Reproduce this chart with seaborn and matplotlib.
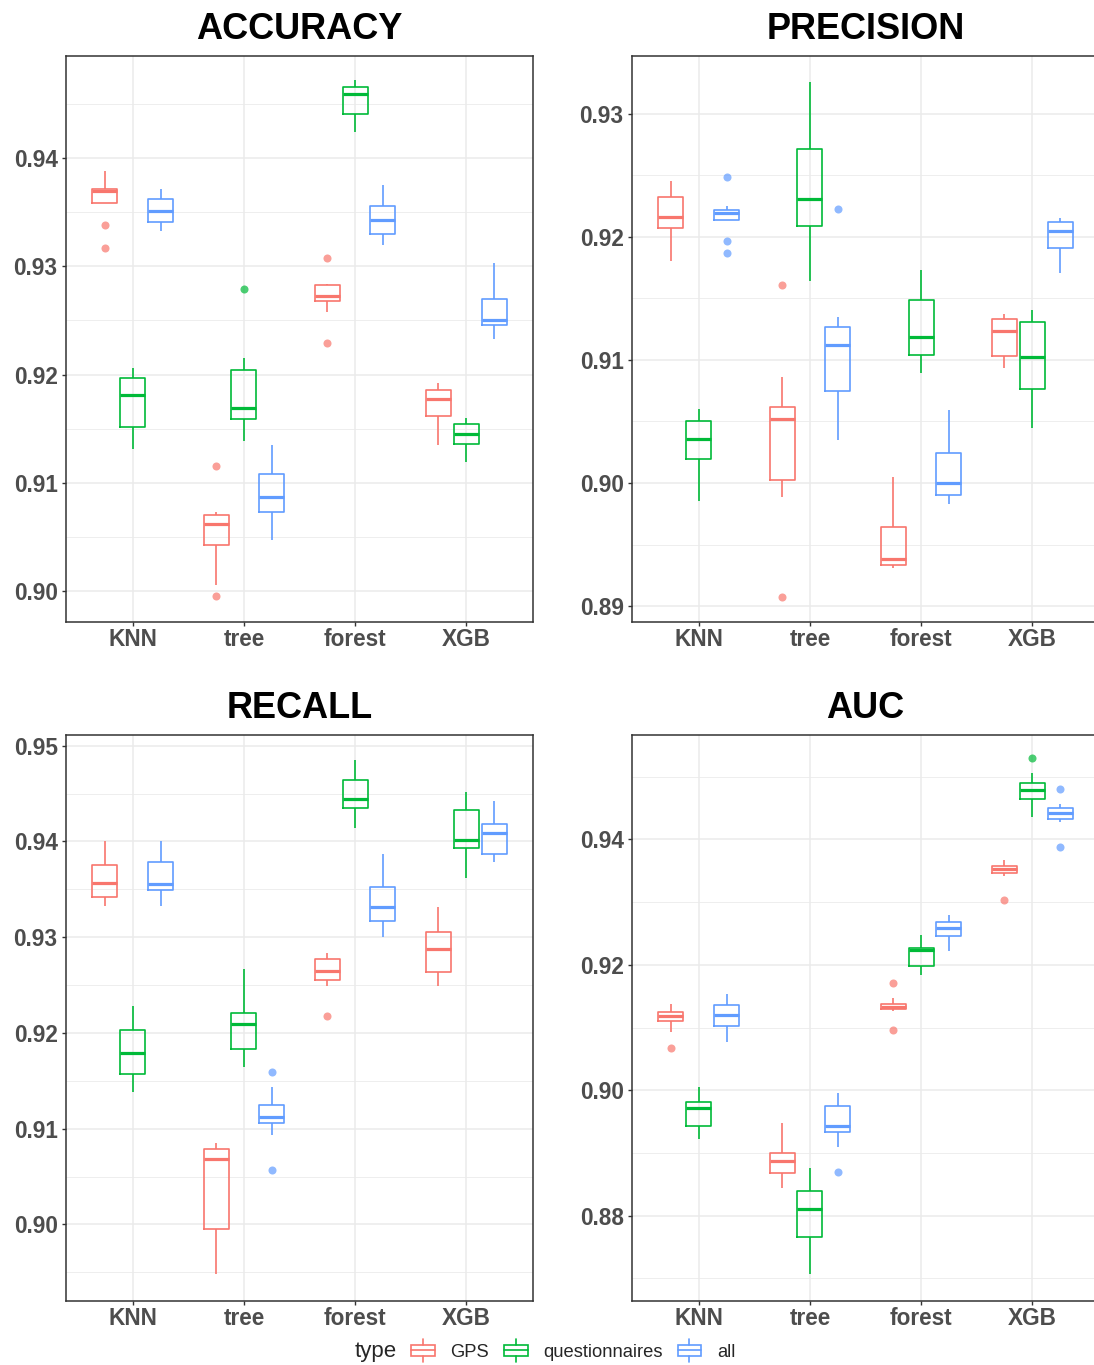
import numpy as np
import pandas as pd
import matplotlib
matplotlib.use("Agg")
import matplotlib.pyplot as plt
import seaborn as sns
from matplotlib.patches import Patch, Rectangle
from matplotlib.lines import Line2D
from matplotlib.legend_handler import HandlerBase

models = ["KNN", "tree", "forest", "XGB"]
types = ["GPS", "questionnaires", "all"]
colors = ["#F8766D", "#00BA38", "#619CFF"]

# box stats: (low whisker, q1, median, q3, high whisker), one per model
acc_gps = [(0.93585, 0.93585, 0.93691, 0.93716, 0.93876), (0.90053, 0.90422, 0.90621, 0.90699, 0.90727),
           (0.92582, 0.92677, 0.92723, 0.92826, 0.92835), (0.91351, 0.91617, 0.91773, 0.91855, 0.91926)]
acc_quest = [(0.91316, 0.91514, 0.91809, 0.91968, 0.92060), (0.91387, 0.91585, 0.91688, 0.92046, 0.92156),
             (0.94238, 0.94404, 0.94592, 0.94652, 0.94716), (0.91188, 0.91358, 0.91454, 0.91546, 0.91599)]
acc_all = [(0.93330, 0.93408, 0.93507, 0.93621, 0.93709), (0.90472, 0.90730, 0.90869, 0.91082, 0.91348),
           (0.93199, 0.93301, 0.93429, 0.93557, 0.93748), (0.92326, 0.92457, 0.92504, 0.92695, 0.93032)]
acc_out = [("KNN", "GPS", 0.9338), ("KNN", "GPS", 0.93167), ("tree", "GPS", 0.91156), ("tree", "GPS", 0.89954),
           ("tree", "questionnaires", 0.9279), ("forest", "GPS", 0.9308), ("forest", "GPS", 0.92287)]

prec_gps = [(0.91806, 0.92067, 0.92160, 0.92322, 0.92449), (0.89890, 0.90026, 0.90521, 0.90617, 0.90857),
            (0.89308, 0.89333, 0.89386, 0.89644, 0.90047), (0.90932, 0.91028, 0.91233, 0.91330, 0.91373)]
prec_quest = [(0.89857, 0.90194, 0.90359, 0.90502, 0.90599), (0.91641, 0.92086, 0.92306, 0.92711, 0.93258),
              (0.90894, 0.91037, 0.91187, 0.91485, 0.91731), (0.90443, 0.90761, 0.91022, 0.91308, 0.91404)]
prec_all = [(0.92132, 0.92132, 0.92191, 0.92213, 0.92250), (0.90347, 0.90751, 0.91121, 0.91268, 0.91345),
            (0.89827, 0.89905, 0.89999, 0.90244, 0.90596), (0.91706, 0.91905, 0.92048, 0.92117, 0.92154)]
prec_out = [("KNN", "all", 0.92484), ("KNN", "all", 0.91964), ("KNN", "all", 0.91865),
            ("tree", "GPS", 0.91610), ("tree", "GPS", 0.89078), ("tree", "all", 0.92226)]

rec_gps = [(0.93328, 0.93424, 0.93568, 0.93752, 0.94000), (0.89480, 0.89948, 0.90688, 0.90788, 0.90852),
           (0.92488, 0.92552, 0.92648, 0.92772, 0.92832), (0.92488, 0.92632, 0.92872, 0.93052, 0.93320)]
rec_quest = [(0.91384, 0.91576, 0.91788, 0.92028, 0.92280), (0.91640, 0.91836, 0.92096, 0.92212, 0.92672),
             (0.94140, 0.94348, 0.94444, 0.94644, 0.94848), (0.93620, 0.93932, 0.94020, 0.94328, 0.94520)]
rec_all = [(0.93328, 0.93496, 0.93560, 0.93788, 0.94000), (0.90932, 0.91056, 0.91120, 0.91248, 0.91436),
           (0.93000, 0.93172, 0.93312, 0.93520, 0.93872), (0.93784, 0.93868, 0.94088, 0.94184, 0.94420)]
rec_out = [("tree", "all", 0.9159), ("tree", "all", 0.90572), ("forest", "GPS", 0.9218)]

auc_gps = [(0.90928, 0.91105, 0.91185, 0.91252, 0.91380), (0.88440, 0.88672, 0.88864, 0.88998, 0.89470),
           (0.91258, 0.91289, 0.91331, 0.91380, 0.91466), (0.93420, 0.93463, 0.93524, 0.93579, 0.93676)]
auc_quest = [(0.89218, 0.89426, 0.89713, 0.89805, 0.90055), (0.87063, 0.87661, 0.88104, 0.88388, 0.88757),
             (0.91844, 0.91985, 0.92232, 0.92275, 0.92473), (0.94366, 0.94653, 0.94782, 0.94898, 0.95056)]
auc_all = [(0.90776, 0.91032, 0.91203, 0.91356, 0.91539), (0.89096, 0.89341, 0.89426, 0.89743, 0.89957),
           (0.92223, 0.92455, 0.92589, 0.92687, 0.92797), (0.94275, 0.94324, 0.94427, 0.94495, 0.94568)]
auc_out = [("KNN", "GPS", 0.90672), ("tree", "all", 0.8870), ("forest", "GPS", 0.91710), ("forest", "GPS", 0.90965),
           ("XGB", "GPS", 0.93041), ("XGB", "questionnaires", 0.9530), ("XGB", "all", 0.9480), ("XGB", "all", 0.93878)]

panels = [
    ("ACCURACY", [acc_gps, acc_quest, acc_all], acc_out, [0.90, 0.91, 0.92, 0.93, 0.94], (0.89714, 0.94942)),
    ("PRECISION", [prec_gps, prec_quest, prec_all], prec_out, [0.89, 0.90, 0.91, 0.92, 0.93], (0.88872, 0.93467)),
    ("RECALL", [rec_gps, rec_quest, rec_all], rec_out, [0.90, 0.91, 0.92, 0.93, 0.94, 0.95], (0.89200, 0.95112)),
    ("AUC", [auc_gps, auc_quest, auc_all], auc_out, [0.88, 0.90, 0.92, 0.94], (0.86638, 0.95667)),
]


def make_frame(stats, outliers):
    # rebuild a sample per box whose quartiles / whiskers match the read values
    rows = []
    for t, per_model in zip(types, stats):
        for m, (lo, q1, med, q3, hi) in zip(models, per_model):
            vals = [lo] + [q1] * 10 + [med] * 10 + [q3] * 10 + [hi]
            vals += [v for (mm, tt, v) in outliers if mm == m and tt == t]
            rows += [(m, t, v) for v in vals]
    return pd.DataFrame(rows, columns=["model", "type", "value"])


class BoxHandler(HandlerBase):
    def create_artists(self, legend, orig_handle, xdescent, ydescent, width, height, fontsize, trans):
        c = orig_handle.get_edgecolor()
        x0, y0 = -xdescent, -ydescent
        box = Rectangle((x0, y0 + 0.2 * height), width, 0.6 * height, facecolor="white",
                        edgecolor=c, lw=1.2, transform=trans)
        med = Line2D([x0, x0 + width], [y0 + 0.5 * height] * 2, color=c, lw=1.2, transform=trans)
        w1 = Line2D([x0 + width / 2] * 2, [y0 + 0.8 * height, y0 + 1.15 * height], color=c, lw=1.2, transform=trans)
        w2 = Line2D([x0 + width / 2] * 2, [y0 + 0.2 * height, y0 - 0.15 * height], color=c, lw=1.2, transform=trans)
        return [box, med, w1, w2]


sns.set_style("white")
plt.rcParams["font.family"] = ["Liberation Sans", "DejaVu Sans"]

W, H = 1094, 1365
fig = plt.figure(figsize=(W / 100, H / 100), dpi=100)
pos = [(66, 56), (632, 56), (66, 735), (632, 735)]
aw, ah = 467, 566

for (title, stats, outs, ticks, ylim), (px, py) in zip(panels, pos):
    ax = fig.add_axes([px / W, 1 - (py + ah) / H, aw / W, ah / H])
    df = make_frame(stats, outs)
    sns.boxplot(data=df, x="model", y="value", hue="type", order=models, hue_order=types,
                palette=colors, fill=False, width=0.75, gap=0.1, linewidth=1.2, whis=1.5,
                showcaps=False, fliersize=5.8, flierprops={"marker": "o", "alpha": 0.7},
                medianprops={"linewidth": 2.3}, legend=False, ax=ax)
    for ln in ax.lines:
        if ln.get_marker() == "o":
            ln.set_markerfacecolor(ln.get_markeredgecolor())
            ln.set_markeredgewidth(0)
    ax.set_yticks(ticks)
    step = ticks[1] - ticks[0]
    minor = [t + step / 2 for t in [ticks[0] - step] + ticks]
    ax.set_yticks(minor, minor=True)
    ax.set_yticklabels([f"{t:.2f}" for t in ticks])
    ax.set_xlim(-0.6, 3.6)
    ax.set_ylim(*ylim)
    ax.grid(True, which="major", color="#EBEBEB", lw=1.1)
    ax.grid(True, which="minor", axis="y", color="#EBEBEB", lw=0.6)
    ax.set_axisbelow(True)
    ax.set_xlabel("")
    ax.set_ylabel("")
    ax.set_title(title, fontsize=26, fontweight="bold", color="black", pad=12)
    ax.tick_params(axis="both", which="major", labelsize=16.3, colors="#333333", labelcolor="#4D4D4D",
                   length=3, width=1, left=True, bottom=True, pad=3)
    ax.tick_params(axis="x", which="major", pad=1)
    ax.tick_params(axis="y", which="minor", length=0)
    for lab in ax.get_xticklabels() + ax.get_yticklabels():
        lab.set_fontweight("bold")
    for sp in ax.spines.values():
        sp.set_color("#333333")
        sp.set_linewidth(1.1)

handles = [Patch(facecolor="white", edgecolor=c) for c in colors]
fig.legend(handles, types, loc="center", bbox_to_anchor=(0.524, 1 - 1351 / H), ncol=3, frameon=False,
           fontsize=13.2, handler_map={Patch: BoxHandler()}, handlelength=1.3, handleheight=1.1,
           columnspacing=0.8, handletextpad=0.85)
fig.text(355 / W, 1 - 1352 / H, "type", fontsize=16, va="center", ha="left")

fig.savefig("out.png", dpi=100)
